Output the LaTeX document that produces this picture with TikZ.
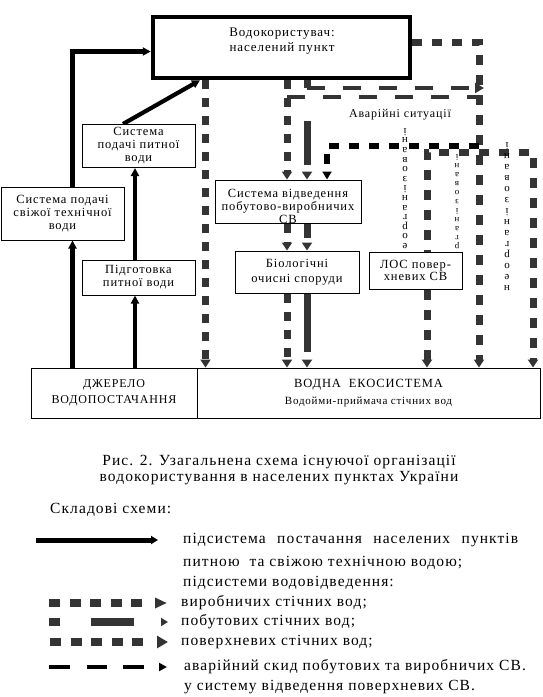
\documentclass[tikz,border=0pt]{standalone}
\usepackage{fontspec}
\setmainfont[LetterSpace=7]{Liberation Serif}
\usetikzlibrary{arrows.meta}
\definecolor{dg}{RGB}{52,52,52}
\pgfdeclarelayer{bg}
\pgfsetlayers{bg,main}
\newcommand\fsz[2]{\fontsize{#1}{#2}\selectfont}
\begin{document}
\begin{tikzpicture}[x=1pt,y=-1pt,
  box/.style={draw, line width=1pt, fill=white, inner sep=0pt, align=center, font=\fsz{12.5}{13}},
  lbl/.style={inner sep=0pt, align=center},
  sup/.style={line width=4.2pt, -{Triangle[length=8pt,width=8pt]}},
  prod/.style={draw=dg, line width=7pt, dash pattern=on 9pt off 9pt, -{Triangle[length=8pt,width=10pt]}},
  dom/.style={draw=dg, line width=7pt, dash pattern=on 8pt off 33pt on 44pt off 33pt, -{Triangle[length=8pt,width=10pt]}},
  surf/.style={draw=dg, line width=7pt, dash pattern=on 10pt off 10pt, -{Triangle[length=8pt,width=10pt]}},
  surfb/.style={draw=dg, line width=7pt, dash pattern=on 10pt off 10pt, {Triangle[length=8pt,width=10pt]}-{Triangle[length=8pt,width=10pt]}},
  emg/.style={draw=dg, line width=4.5pt, dash pattern=on 18pt off 18pt},
  blk/.style={draw=black, line width=5.5pt, dash pattern=on 10pt off 10pt},
  vt/.style={rotate=180, inner sep=0pt, align=center},
  leg/.style={inner sep=0pt, anchor=west, font=\fsz{15.5}{18}},
]
\useasboundingbox (0,0) rectangle (542,697);

% ---------- boxes ----------
\node[draw, line width=4.5pt, fill=white, minimum width=257pt, minimum height=61pt, inner sep=0pt] (user) at (281.5,47.5) {};
\node[lbl, font=\fsz{13}{15}] (usert) at (282,41) {Водокористувач:\\населений пункт};
\node[box, minimum width=113pt, minimum height=43pt] (spw) at (138.5,146) {Система\\подачі питної\\води};
\node[box, minimum width=123pt, minimum height=53pt] (stw) at (62.5,213.5) {Система подачі\\свіжої технічної\\води};
\node[box, minimum width=113pt, minimum height=35pt] (ppw) at (138.5,277.5) {Підготовка\\питної води};
\node[box, minimum width=146pt, minimum height=43pt] (wws) at (288,201.5) {};
\node[lbl, font=\fsz{12.5}{13}] (wwst) at (288,206) {Система відведення\\побутово-виробничих\\СВ};
\node[box, minimum width=124pt, minimum height=42pt, font=\fsz{12.5}{15}] (bio) at (297,272) {Біологічні\\очисні споруди};
\node[box, minimum width=166pt, minimum height=50pt, font=\fsz{12}{16}] (src) at (114,393) {ДЖЕРЕЛО\\ВОДОПОСТАЧАННЯ};
\node[box, minimum width=343pt, minimum height=50pt, font=\fsz{12.5}{17}] (eco) at (368.5,393) {ВОДНА\ \ ЕКОСИСТЕМА\\{\fsz{11}{13}Водойми-приймача стічних вод}};

% ---------- connectors ----------
\begin{pgfonlayer}{bg}
\coordinate (xA) at (72.5,0);
\coordinate (xB) at (135,0);
\coordinate (xC) at (205.5,0);
\coordinate (xD) at (287,0);
\coordinate (xE) at (307,0);
\coordinate (xH) at (479,0);
\coordinate (yA) at (0,51.5);
\coordinate (yB) at (0,42);
\coordinate (g1) at (427,152);
\coordinate (g2) at (533,152);
\coordinate (k1) at (479,146);
\coordinate (k2) at (327,146);
\coordinate (e1) at (307,88);
\coordinate (e2) at (484,88);
\coordinate (e3) at (287,97);
\coordinate (e4) at (476,97);

\draw[sup] (stw.north -| xA) |- (user.west |- yA);
\draw[sup] (src.north -| xA) -- (stw.south -| xA);
\draw[sup] (src.north -| xB) -- (ppw.south -| xB);
\draw[sup] (ppw.north -| xB) -- (spw.south -| xB);
\draw[sup] ([xshift=-15.5pt]spw.north) -- ([xshift=-81.5pt]user.south);

\draw[prod] (user.south -| xC) -- (eco.north -| xC);
\draw[prod] (user.south -| xD) -- (wws.north -| xD);
\draw[prod] (wws.south -| xD) -- (bio.north -| xD);
\draw[prod] (bio.south -| xD) -- (eco.north -| xD);
\draw[dom] (user.south -| xE) -- (wws.north -| xE);
\draw[dom, dash pattern=on 14pt off 30pt] (wws.south -| xE) -- (bio.north -| xE);
\draw[dom, dash pattern=on 58pt off 40pt] (bio.south -| xE) -- (eco.north -| xE);

\draw[surf] (user.east |- yB) -| (eco.north -| xH);
\draw[surfb] (eco.north -| g1) -- (g1) -- (g2) -- (eco.north -| g2);

\draw[emg, -{Triangle[length=9pt,width=10pt]}] (e1) -- (e2);
\draw[emg] (e3) -- (e4);
\draw[blk, -{Triangle[length=8pt,width=9pt]}] (k1) -- (k2) -- (wws.north -| k2);
\end{pgfonlayer}

% ---------- labels over lines ----------
\node[lbl, font=\fsz{12}{14}] (avar) at (400,115) {Аварійні ситуації};
\node[vt, font=\fsz{11}{9.6}] (v1) at (405,188.5) {е\\о\\р\\г\\а\\н\\і\\з\\о\\в\\а\\н\\і};
\node[vt, font=\fsz{9}{9}] (v2) at (457,201.5) {р\\г\\а\\н\\і\\з\\о\\в\\а\\н\\і};
\node[vt, font=\fsz{11}{11}] (v3) at (507,216.5) {н\\е\\о\\р\\г\\а\\н\\і\\з\\о\\в\\а\\н\\і};
\node[box, minimum width=93pt, minimum height=37pt, font=\fsz{12.5}{12.5}] (los) at (415.5,270.5) {ЛОС повер-\\хневих СВ};

% ---------- caption ----------
\node[lbl, font=\fsz{15.5}{16}] (cap) at (279,470) {Рис. 2. Узагальнена схема існуючої організації\\водокористування в населених пунктах України};

% ---------- legend ----------
\node[leg] (l0) at (50,510) {Складові схеми:};
\node[leg] (t1) at (183,540) {\makebox[335pt][s]{підсистема постачання населених пунктів}};
\node[leg] (t2) at (183,563) {питною\ \ та свіжою технічною водою;};
\node[leg] (t3) at (183,583) {підсистеми водовідведення:};
\node[leg] (t4) at (181,603) {виробничих стічних вод;};
\node[leg] (t5) at (181,622) {побутових стічних вод;};
\node[leg] (t6) at (181,642) {поверхневих стічних вод;};
\node[leg] (t7) at (184,667) {аварійний скид побутових та виробничих СВ.};
\node[leg] (t8) at (184,687) {у систему відведення поверхневих СВ.};

\coordinate (a1) at (36,540);  \coordinate (b1) at (158,540);
\coordinate (a4) at (49,603);  \coordinate (b4) at (167,603);
\coordinate (a5) at (49,622);  \coordinate (b5) at (168,622);
\coordinate (a6) at (50,642);  \coordinate (b6) at (168,642);
\coordinate (a7) at (49,667);  \coordinate (b7) at (167,667);
\draw[line width=5pt, -{Triangle[length=7pt,width=8pt]}] (a1) -- (b1);
\draw[draw=dg, line width=8pt, dash pattern=on 11pt off 9.5pt on 11pt off 9.5pt on 11pt off 9.5pt on 11pt off 9.5pt on 11pt off 60pt, -{Triangle[length=12pt,width=10pt]}] (a4) -- (b4);
\draw[draw=dg, line width=8pt, dash pattern=on 11pt off 31pt on 43pt off 60pt, -{Triangle[length=7pt,width=8pt]}] (a5) -- (b5);
\draw[draw=dg, line width=8pt, dash pattern=on 11pt off 9.5pt on 11pt off 9.5pt on 11pt off 9.5pt on 11pt off 9.5pt on 11pt off 60pt, -{Triangle[length=11pt,width=12pt]}] (a6) -- (b6);
\draw[line width=4.5pt, dash pattern=on 21pt off 16.5pt on 20.5pt off 16pt on 21pt off 60pt, -{Triangle[length=8pt,width=8pt]}] (a7) -- (b7);
\end{tikzpicture}
\end{document}
